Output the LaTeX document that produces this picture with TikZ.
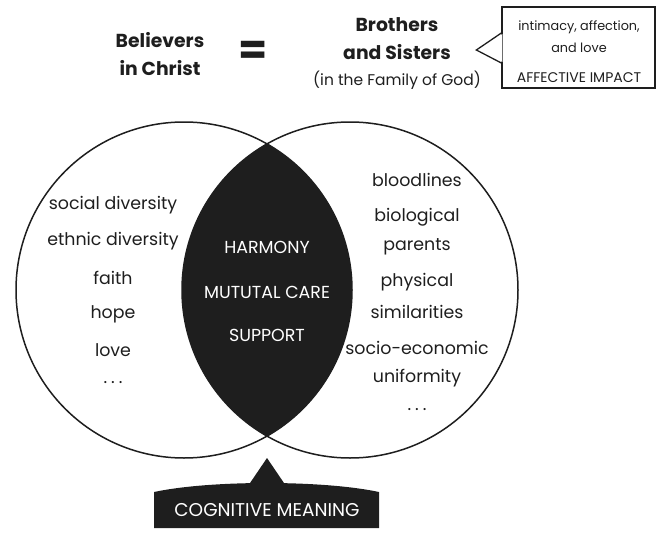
\documentclass[tikz,border=0pt]{standalone}
\usepackage{fontspec}
\setmainfont{Poppins}
\usetikzlibrary{calc}
\definecolor{ink}{HTML}{1E1E1E}
\begin{document}
\begin{tikzpicture}[x=1pt,y=-1pt,
  every node/.style={inner sep=0pt,text=ink},
  head/.style={font=\fontsize{18.8}{28}\bfseries\selectfont,align=center},
  item/.style={font=\fontsize{17.4}{18}\selectfont},
  core/.style={font=\fontsize{17.4}{18}\selectfont,text=white},
  small/.style={font=\fontsize{12.8}{14}\selectfont},
  ringline/.style={line width=1.5pt,draw=ink}]
  \useasboundingbox (0,0) rectangle (664,543);
  \def\R{168pt}
  \coordinate (lc) at (184,290);
  \coordinate (rc) at (350,290);
  % the shared part
  \begin{scope}
    \clip (lc) circle (\R);
    \fill[ink] (rc) circle (\R);
  \end{scope}
  \draw[ringline] (lc) circle (\R) (rc) circle (\R);
  % heading
  \node[head] (bel) at (160,54) {Believers\\in Christ};
  \node[font=\fontsize{42}{42}\bfseries\selectfont] (eq) at (253,53) {=};
  \node[head] (bro) at (397,39) {Brothers\\and Sisters};
  \node[font=\fontsize{15.5}{16}\selectfont] (fam) at (397,80) {(in the Family of God)};
  % callout
  \node[draw=ink,line width=1.3pt,minimum width=153pt,minimum height=81pt] (aff) at (578.5,47.5) {};
  \fill[white] ($(aff.west)+(1,-13.5)$) -- ($(aff.west)+(-25,2.5)$) -- ($(aff.west)+(1,14.5)$) -- cycle;
  \draw[ink,line width=1.3pt] ($(aff.west)+(0,-14.5)$) -- ($(aff.west)+(-25,2.5)$) -- ($(aff.west)+(0,15.5)$);
  \node[small] (aff1) at (579,27) {intimacy, affection,};
  \node[small] (aff2) at (579,48) {and love};
  \node[small,font=\fontsize{14}{14}\selectfont] (aff3) at (579,78) {AFFECTIVE IMPACT};
  % left ring
  \foreach \y/\t [count=\i] in {205/social diversity,241/ethnic diversity,278/faith,
      314/hope,350/love,383/.\hspace{4pt}.\hspace{4pt}.}
    \node[item] (l\i) at (113,\y) {\t};
  % right ring
  \foreach \y/\t [count=\i] in {180/bloodlines,217/biological,247/parents,282/physical,
      312/similarities,348/socio-economic,378/uniformity,410/.\hspace{4pt}.\hspace{4pt}.}
    \node[item] (r\i) at (417,\y) {\t};
  % middle
  \foreach \y/\t [count=\i] in {247/HARMONY,292/MUTUTAL CARE,335/SUPPORT}
    \node[core] (m\i) at (267,\y) {\t};
  % banner
  \fill[ink] (154,528) -- (154,492) .. controls (210,480) and (323,480) .. (379,492)
    -- (379,528) -- cycle;
  \fill[ink] (248,486) -- (267,458) -- (286,486) -- cycle;
  \node[core,font=\fontsize{18.5}{18}\selectfont] (cogn) at (267,510) {COGNITIVE MEANING};
\end{tikzpicture}
\end{document}
